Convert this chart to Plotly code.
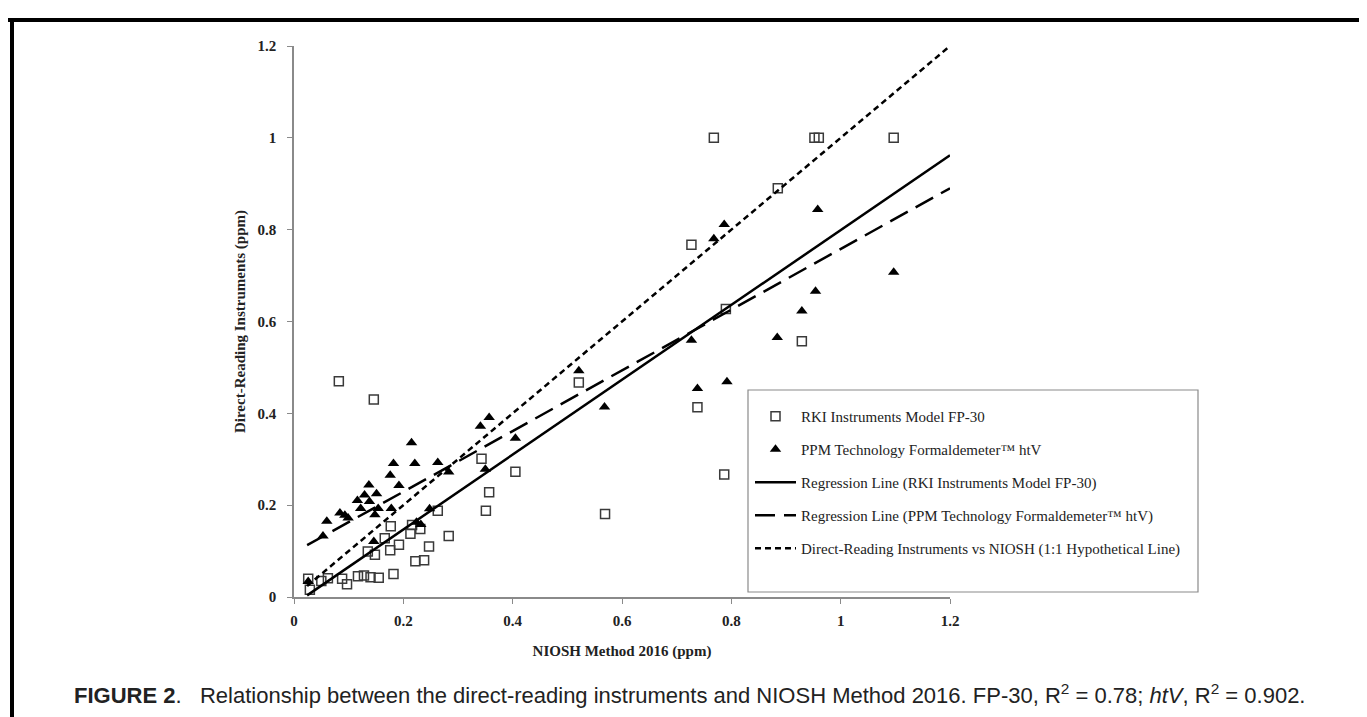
import plotly.graph_objects as go

# ---------------- data ----------------
rki_x = [0.026, 0.029, 0.050, 0.062, 0.088, 0.097, 0.117, 0.128, 0.140, 0.155,
         0.182, 0.082, 0.146, 0.135, 0.148, 0.176, 0.192, 0.166, 0.177, 0.213,
         0.216, 0.231, 0.222, 0.238, 0.247, 0.263, 0.283, 0.343, 0.351, 0.357,
         0.405, 0.521, 0.569, 0.727, 0.738, 0.787, 0.790, 0.768, 0.885, 0.929,
         0.952, 0.960, 1.097]
rki_y = [0.040, 0.016, 0.035, 0.041, 0.040, 0.028, 0.045, 0.047, 0.043, 0.042,
         0.050, 0.470, 0.430, 0.099, 0.092, 0.102, 0.114, 0.128, 0.154, 0.138,
         0.157, 0.148, 0.078, 0.080, 0.110, 0.188, 0.133, 0.301, 0.188, 0.228,
         0.273, 0.467, 0.181, 0.767, 0.413, 0.267, 0.627, 1.000, 0.890, 0.557,
         1.000, 1.000, 1.000]

ppm_x = [0.026, 0.053, 0.060, 0.084, 0.093, 0.099, 0.116, 0.122, 0.129, 0.137,
         0.138, 0.148, 0.151, 0.154, 0.146, 0.176, 0.178, 0.182, 0.192, 0.215,
         0.221, 0.224, 0.232, 0.248, 0.263, 0.283, 0.341, 0.350, 0.357, 0.405,
         0.521, 0.568, 0.727, 0.738, 0.768, 0.787, 0.792, 0.884, 0.929, 0.954,
         0.958, 1.097]
ppm_y = [0.034, 0.133, 0.165, 0.183, 0.178, 0.172, 0.210, 0.193, 0.222, 0.244,
         0.208, 0.179, 0.225, 0.193, 0.121, 0.265, 0.193, 0.291, 0.243, 0.336,
         0.291, 0.163, 0.158, 0.192, 0.293, 0.272, 0.372, 0.278, 0.391, 0.346,
         0.493, 0.414, 0.559, 0.454, 0.780, 0.811, 0.469, 0.565, 0.623, 0.666,
         0.844, 0.707]

# trend lines: slope / intercept, drawn over line_x
line_x = [0.024, 1.2]
rki_slope, rki_intercept = 0.815, -0.016
ppm_slope, ppm_intercept = 0.661, 0.097
identity_slope, identity_intercept = 1.0, 0.0

tick_vals = [0, 0.2, 0.4, 0.6, 0.8, 1.0, 1.2]
tick_text = ["0", "0.2", "0.4", "0.6", "0.8", "1", "1.2"]

names = [
    "RKI Instruments Model FP-30",
    "PPM Technology Formaldemeter\u2122 htV",
    "Regression Line (RKI Instruments Model FP-30)",
    "Regression Line (PPM Technology Formaldemeter\u2122 htV)",
    "Direct-Reading Instruments vs NIOSH (1:1 Hypothetical Line)",
]
x_title = "NIOSH Method 2016 (ppm)"
y_title = "Direct-Reading Instruments (ppm)"
caption = ("<b>FIGURE 2</b>.   Relationship between the direct-reading instruments and "
           "NIOSH Method 2016. FP-30, R<sup>2</sup> = 0.78; <i>htV</i>, R<sup>2</sup> = 0.902.")

# ---------------- figure ----------------
W, H = 1367, 717
L, R, T, B = 286, 425, 38, 128
PW, PH = W - L - R, H - T - B


def px(xp):
    return (xp - L) / PW


def py(yp):
    return (H - B - yp) / PH


SERIF = "Liberation Serif, Times New Roman, serif"

fig = go.Figure()

fig.add_trace(go.Scatter(
    x=rki_x, y=rki_y, mode="markers", name=names[0], legendgroup="a",
    marker=dict(symbol="square-open", size=9, color="#3a3a3a", line=dict(width=1.5)),
))
fig.add_trace(go.Scatter(
    x=ppm_x, y=ppm_y, mode="markers", name=names[1], legendgroup="b",
    marker=dict(symbol="triangle-up", size=10, color="black"),
))


def line_y(slope, intercept):
    return [slope * v + intercept for v in line_x]


fig.add_trace(go.Scatter(
    x=line_x, y=line_y(rki_slope, rki_intercept), mode="lines", name=names[2],
    legendgroup="c", line=dict(color="black", width=2.5),
))
fig.add_trace(go.Scatter(
    x=line_x, y=line_y(ppm_slope, ppm_intercept), mode="lines", name=names[3],
    legendgroup="d", line=dict(color="black", width=2.5, dash="20px,9px"),
))
fig.add_trace(go.Scatter(
    x=line_x, y=line_y(identity_slope, identity_intercept), mode="lines", name=names[4],
    legendgroup="e", line=dict(color="black", width=2.5, dash="6px,4px"),
))

axis_common = dict(
    range=[0, 1.2], tickvals=tick_vals, ticktext=tick_text,
    showgrid=False, zeroline=False, showline=True, linecolor="#8a8a8a", linewidth=1.5,
    ticks="outside", ticklen=5, tickcolor="#8a8a8a", tickwidth=1.2,
    tickfont=dict(family=SERIF, size=15, color="#222", weight="bold"),
    fixedrange=True,
)

fig.update_layout(
    width=W, height=H, autosize=False,
    margin=dict(l=L, r=R, t=T, b=B, pad=0),
    paper_bgcolor="white", plot_bgcolor="white",
    font=dict(family=SERIF, color="#222"),
    xaxis=dict(**axis_common, ticklabelstandoff=4,
               title=dict(text=x_title, font=dict(family=SERIF, size=15, color="#222", weight="bold"),
                          standoff=18)),
    yaxis=dict(**axis_common, ticklabelstandoff=8,
               title=dict(text=y_title, font=dict(family=SERIF, size=15, color="#222", weight="bold"),
                          standoff=8)),
    showlegend=True,
    legend=dict(
        x=px(742), y=py(392), xanchor="left", yanchor="top",
        bgcolor="rgba(0,0,0,0)", borderwidth=0,
        font=dict(family=SERIF, size=15, color="#222"),
        traceorder="grouped", tracegroupgap=10.5, itemwidth=41,
    ),
    shapes=[
        # legend box
        dict(type="rect", xref="paper", yref="paper", layer="above",
             x0=px(740), x1=px(1190), y0=py(584), y1=py(382),
             line=dict(color="#8a8a8a", width=1.2), fillcolor="rgba(255,255,255,0)"),
        # outer figure frame (top, left, right)
        dict(type="line", xref="paper", yref="paper", x0=px(0), x1=px(W), y0=py(12), y1=py(12),
             line=dict(color="black", width=4)),
        dict(type="line", xref="paper", yref="paper", x0=px(4), x1=px(4), y0=py(12), y1=py(H + 5),
             line=dict(color="black", width=4)),
        dict(type="line", xref="paper", yref="paper", x0=px(1363), x1=px(1363), y0=py(12), y1=py(H + 5),
             line=dict(color="black", width=4)),
    ],
    annotations=[
        dict(text=caption, xref="paper", yref="paper", x=px(64), y=py(686),
             xanchor="left", yanchor="middle", showarrow=False,
             font=dict(family="Liberation Sans, Arial, sans-serif", size=22, color="#222")),
    ],
)

fig.write_html("out.html")
